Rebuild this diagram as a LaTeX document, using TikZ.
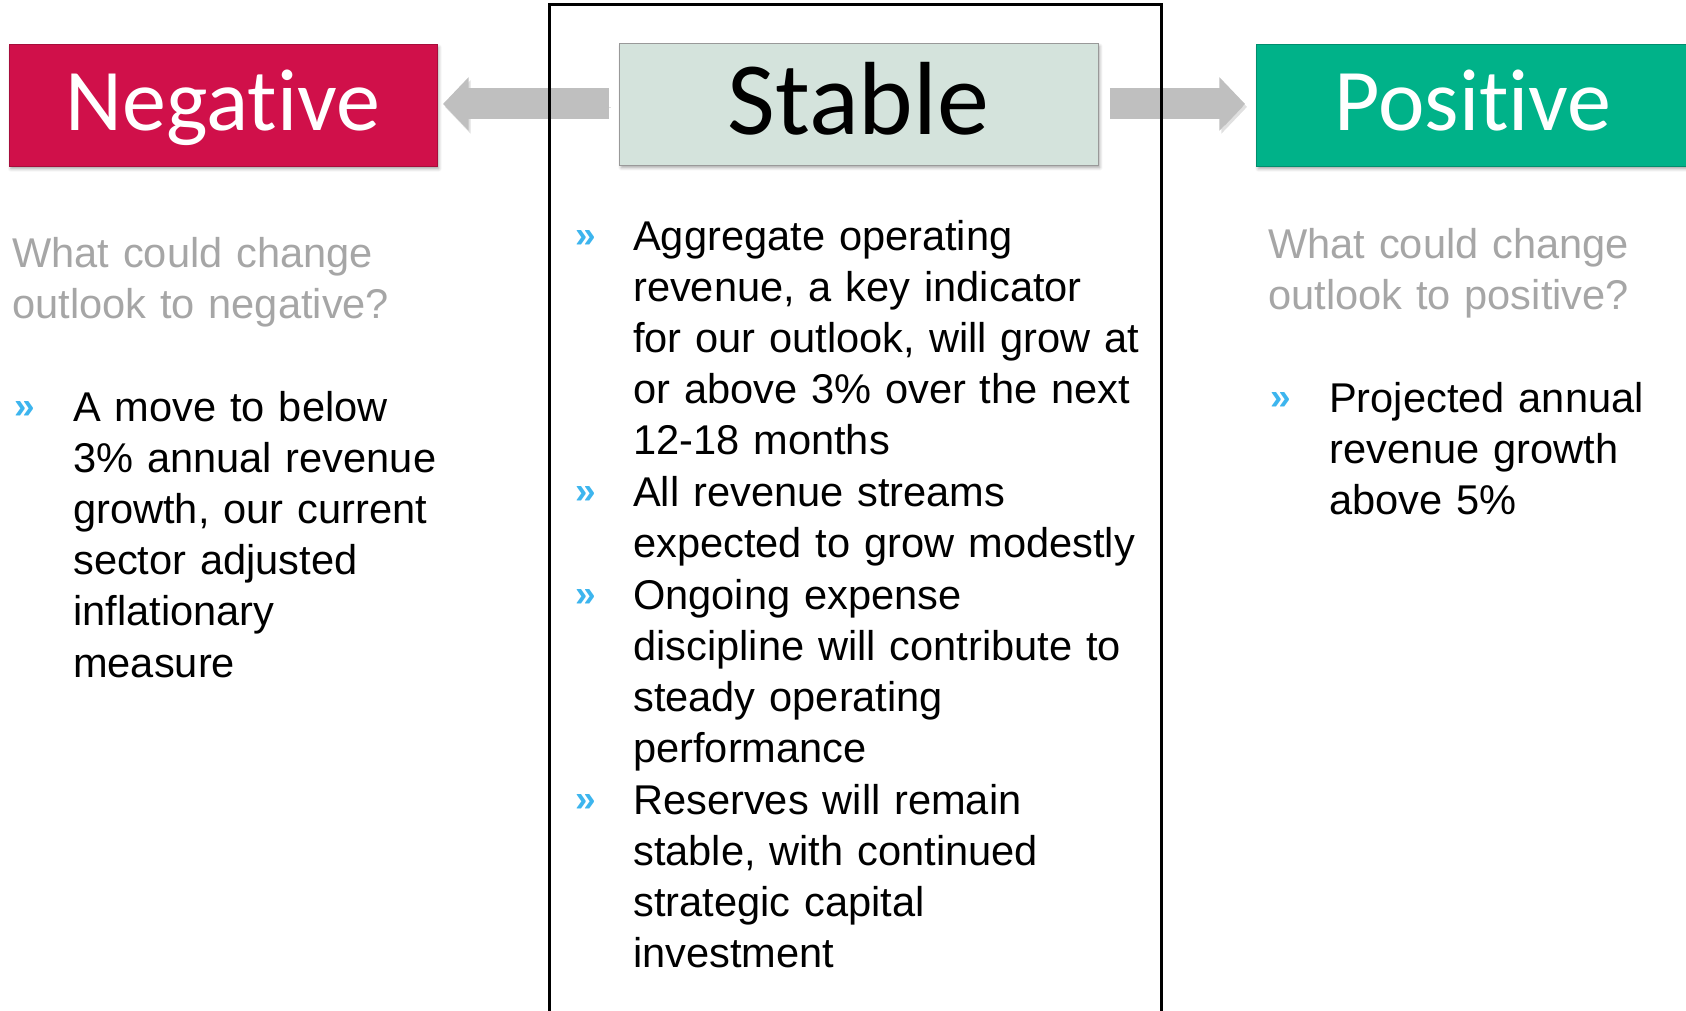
\documentclass[tikz,border=0pt]{standalone}
\usepackage{fontspec}
\setmainfont{Liberation Sans}
\newfontfamily\headfont{Carlito}[Ligatures={NoCommon,NoContextual}]
\usetikzlibrary{arrows.meta,shadows.blur}

\definecolor{negred}{HTML}{D0104A}
\definecolor{posgreen}{HTML}{00B289}
\definecolor{stablefill}{HTML}{D4E3DC}
\definecolor{askgray}{HTML}{A6A6A6}
\definecolor{bulblue}{HTML}{3DB5EE}
\definecolor{arrowgray}{HTML}{BFBFBF}

\tikzset{
  hdr/.style={anchor=north west, inner sep=0pt, text height=86pt, text depth=35.6pt,
    font=\headfont\fontsize{88}{88}\selectfont,
    blur shadow={shadow xshift=2pt, shadow yshift=-3pt, shadow blur radius=3pt, shadow opacity=35}},
  body/.style={anchor=base west, inner sep=0pt, text width=540pt, align=left,
    font=\fontsize{41.6}{51.2}\selectfont},
  ask/.style={body, text=askgray},
  bul/.style={anchor=base west, inner sep=0pt, text=bulblue, font=\bfseries\fontsize{37}{37}\selectfont},
  blockarrow/.style={line width=31pt, draw=arrowgray, -{Triangle[length=25.6pt,width=52pt]},
    preaction={draw=black, opacity=.12, transform canvas={shift={(2pt,-3pt)}}}},
  frame/.style={line width=3pt, line join=miter}
}

\begin{document}
\begin{tikzpicture}[x=1pt,y=-1pt]
  \useasboundingbox (0,0) rectangle (1686,1010);

  % outlook boxes
  \node[hdr, minimum width=428pt, fill=negred, draw=negred!80!black, text=white] (neg) at (8.6,44) {Negative};
  \node[hdr, minimum width=478.5pt, fill=stablefill, draw=black!40, text=black,
    text height=91pt, text depth=30.5pt,
    font=\headfont\fontsize{104}{104}\selectfont] (stable) at (619,43) {Stable};
  \node[hdr, minimum width=434pt, fill=posgreen, draw=posgreen!80!black, text=white] (pos) at (1256,44) {Positive};

  % arrows out of the stable box
  \draw[blockarrow] ([xshift=-10pt]stable.west) -- ([xshift=6pt]stable.west -| neg.east);
  \draw[blockarrow] ([xshift=12pt]stable.east) -- ([xshift=-11pt]stable.east -| pos.west);

  % frame round the stable column
  \draw[frame] (549,1015) |- (1161,4) -- (1161,1015);

  % negative column
  \node[ask] (negq) at (12,267) {What could change\\outlook to negative?};
  \node[bul] (negb) at (14,418) {»};
  \node[body] (negtxt) at (73,421) {A move to below\\3\% annual revenue\\growth, our current\\sector adjusted\\inflationary\\measure};

  % stable column
  \node[bul] (stb1) at (575,247) {»};
  \node[body] (stable1) at (633,250) {Aggregate operating\\revenue, a key indicator\\for our outlook, will grow at\\or above 3\% over the next\\12-18 months};
  \node[bul] (stb2) at (575,503) {»};
  \node[body] (stable2) at (633,506) {All revenue streams\\expected to grow modestly};
  \node[bul] (stb3) at (575,606) {»};
  \node[body] (stable3) at (633,609) {Ongoing expense\\discipline will contribute to\\steady operating\\performance};
  \node[bul] (stb4) at (575,811) {»};
  \node[body] (stable4) at (633,814) {Reserves will remain\\stable, with continued\\strategic capital\\investment};

  % positive column
  \node[ask] (posq) at (1268,258) {What could change\\outlook to positive?};
  \node[bul] (posb) at (1270,409) {»};
  \node[body] (postxt) at (1329,412) {Projected annual\\revenue growth\\above 5\%};
\end{tikzpicture}
\end{document}
